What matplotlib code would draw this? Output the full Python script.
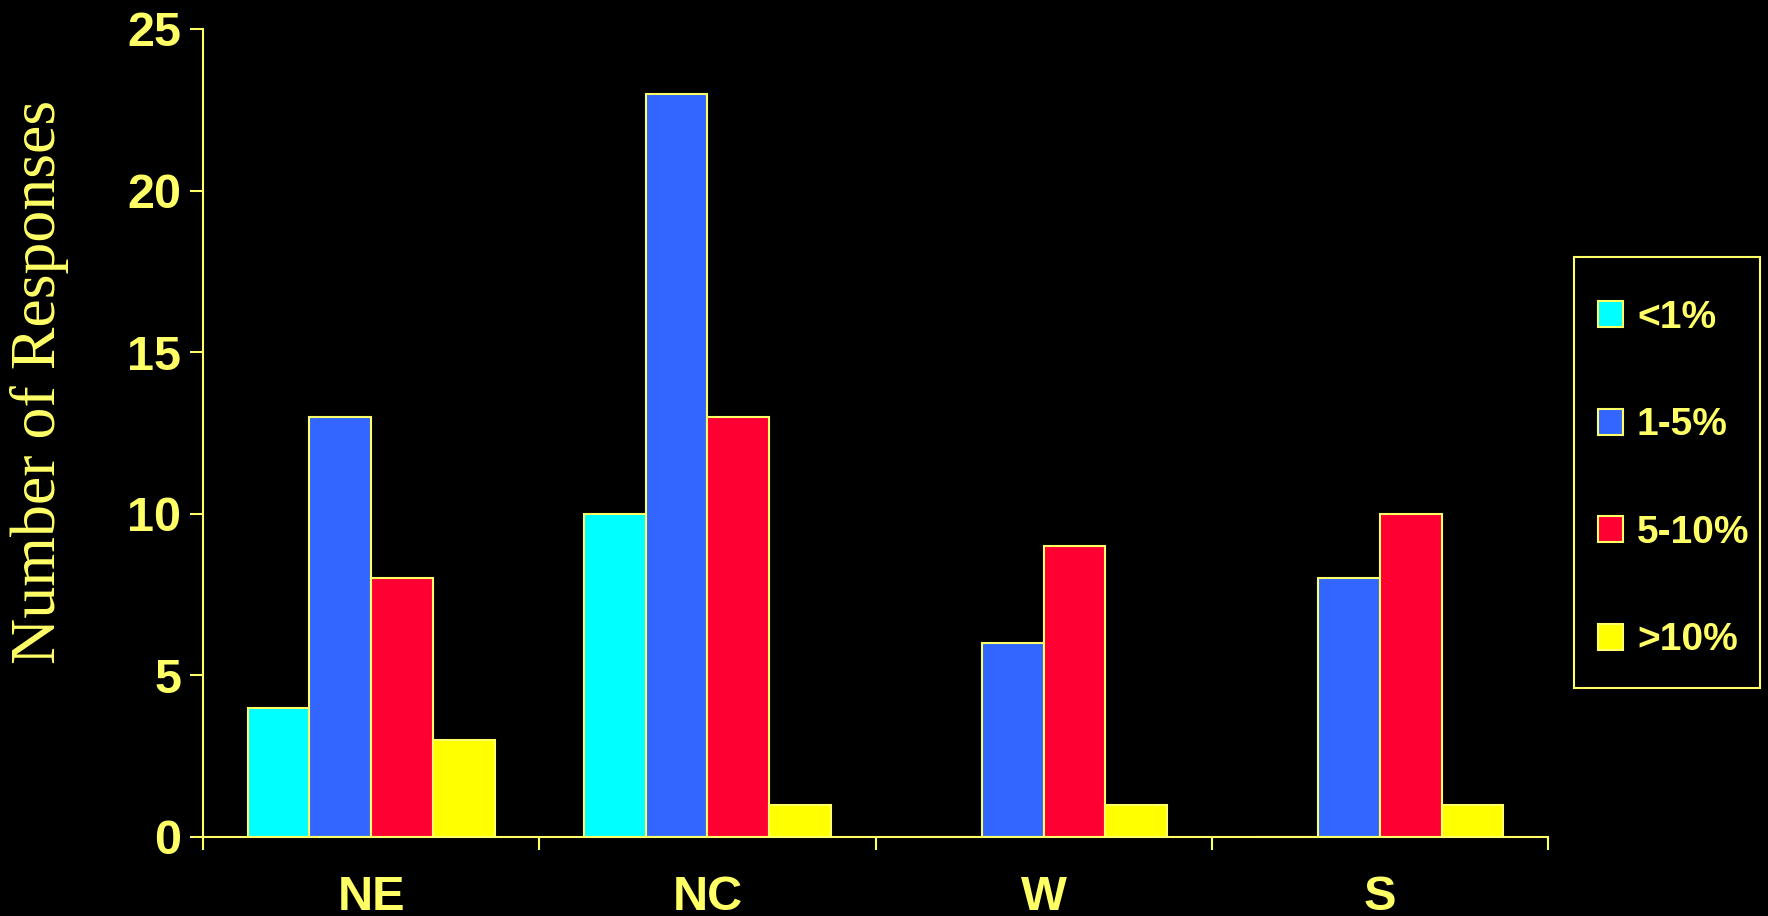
import numpy as np
import matplotlib
matplotlib.use("Agg")
import matplotlib.pyplot as plt
from matplotlib.patches import Rectangle

regions = ["NE", "NC", "W", "S"]
series_labels = ["<1%", "1-5%", "5-10%", ">10%"]
lt1 = [4, 10, 0, 0]
r1_5 = [13, 23, 6, 8]
r5_10 = [8, 13, 9, 10]
gt10 = [3, 1, 1, 1]
series_values = [lt1, r1_5, r5_10, gt10]
yticks = [0, 5, 10, 15, 20, 25]

colors = ["#00FFFF", "#3366FF", "#FF0033", "#FFFF00"]
fg = "#FFFF66"

W, H = 1768, 916
fig = plt.figure(figsize=(W / 100, H / 100), dpi=100, facecolor="black")
ax = fig.add_axes([203 / W, 1 - 837 / H, (1548 - 203) / W, (837 - 29) / H])
ax.set_facecolor("black")

x = np.arange(len(regions))
bw = 0.1835
for i, (vals, col, lab) in enumerate(zip(series_values, colors, series_labels)):
    ax.bar(x + (i - 1.5) * bw, vals, width=bw, color=col, edgecolor=fg,
           linewidth=1.5, label=lab, zorder=3)

ax.set_xlim(-0.5, len(regions) - 0.5)
ax.set_ylim(0, 25)
ax.set_yticks(yticks)
ax.set_yticklabels([str(v) for v in yticks])

# category boundaries as major ticks, names centred as minor ticks
ax.set_xticks(np.arange(-0.5, len(regions), 1.0))
ax.set_xticklabels([])
ax.set_xticks(x, minor=True)
ax.set_xticklabels(regions, minor=True)

for s in ["top", "right"]:
    ax.spines[s].set_visible(False)
for s in ["left", "bottom"]:
    ax.spines[s].set_color(fg)
    ax.spines[s].set_linewidth(1.5)
    ax.spines[s].set_zorder(4)

ax.tick_params(axis="y", which="major", direction="out", length=9.5, width=1.5,
               color=fg, labelcolor=fg, pad=6)
ax.tick_params(axis="x", which="major", direction="out", length=9.5, width=1.5,
               color=fg)
ax.tick_params(axis="x", which="minor", length=0, labelcolor=fg, pad=27)

for t in ax.get_yticklabels():
    t.set_fontfamily("Liberation Sans")
    t.set_fontweight("bold")
    t.set_fontsize(35)
for t in ax.get_xticklabels(minor=True):
    t.set_fontfamily("Liberation Sans")
    t.set_fontweight("bold")
    t.set_fontsize(35)

fig.text(40 / W, 1 - 382 / H, "Number of Responses", rotation=90,
         ha="center", va="center", color=fg, fontsize=46,
         fontfamily="Liberation Serif")

# legend frame
fig.patches.append(Rectangle((1574 / W, 1 - 688 / H), 186 / W, 431 / H,
                             transform=fig.transFigure, facecolor="black",
                             edgecolor=fg, linewidth=1.5, zorder=1))

leg = fig.legend(loc="center left", bbox_to_anchor=(1598 / W, 1 - 479 / H),
                 frameon=False,
                 prop={"family": "Liberation Sans", "weight": "bold", "size": 28},
                 handlelength=0.65, handleheight=0.65, handletextpad=0.35,
                 labelspacing=1.84, borderpad=0, borderaxespad=0)
leg.set_zorder(2)
for t in leg.get_texts():
    t.set_color(fg)

fig.savefig("out.png", dpi=100, facecolor="black")
